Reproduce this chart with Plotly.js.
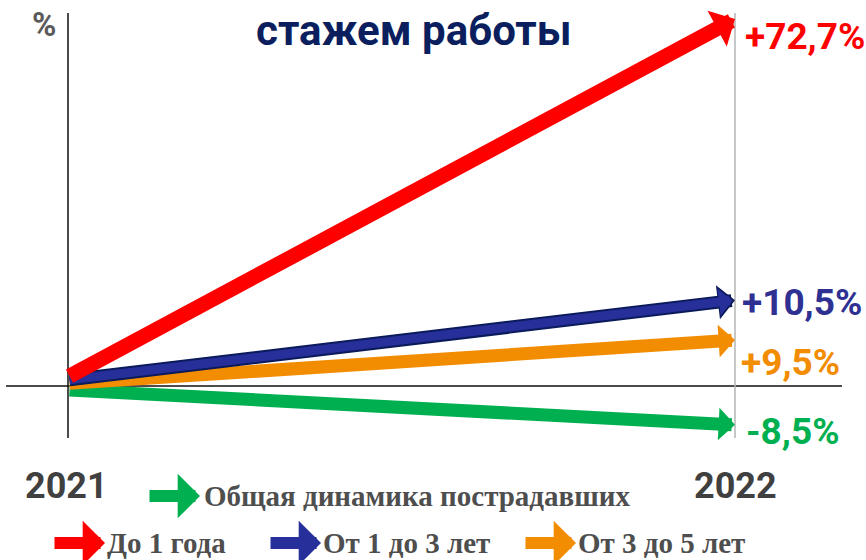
<!DOCTYPE html>
<html>
<head>
<meta charset="utf-8">
<script src="https://cdn.plot.ly/plotly-3.0.1.min.js"></script>
<style>
  html, body { margin: 0; padding: 0; background: #ffffff; }
  #chart { width: 866px; height: 560px; }
</style>
</head>
<body>
<div id="chart"></div>
<script>
// ---- data ----
const years = [2021, 2022];
const groups = ['До 1 года', 'От 1 до 3 лет', 'От 3 до 5 лет', 'Общая динамика пострадавших'];
const changeLabels = ['+72,7%', '+10,5%', '+9,5%', '-8,5%'];
// level of each arrow at 2021 and at 2022, as drawn in the picture (schematic, in %)
const startLevel = [1.8, 1.2, 0.5, -0.8];
const arrowLevel = [72.7, 17.0, 9.1, -7.7];
const titleText = 'стажем работы';
const yUnit = '%';

// ---- styles ----
const colors = ['#ff0000', '#27309a', '#f28c00', '#00b050'];
const labelColors = ['#ff0000', '#2e3192', '#f28c00', '#00b050'];
const shaftWidth = [15, 9, 13, 13];
const headSize = [0.45, 0.5, 0.42, 0.42];
const labelShift = [-17, -2, -22, -7];
const labelXShift = [8, 5, 4, 9];

const W = 866, H = 560;
const px = v => v / W;
const py = v => 1 - v / H;

const annotations = [];
const shapes = [];

// axis lines
shapes.push({type: 'line', xref: 'x', yref: 'paper', x0: years[0], x1: years[0], y0: py(438), y1: py(13),
  line: {color: '#111111', width: 1.5}, layer: 'below'});
shapes.push({type: 'line', xref: 'paper', yref: 'y', x0: px(6), x1: px(842), y0: 0, y1: 0,
  line: {color: '#111111', width: 1.5}, layer: 'below'});
shapes.push({type: 'line', xref: 'x', yref: 'paper', x0: years[1], x1: years[1], y0: py(438), y1: py(13),
  line: {color: '#b4b4b4', width: 1.5}, layer: 'below'});

// main arrows (draw order: green, orange, blue, red)
const order = [3, 2, 1, 0];
order.forEach(i => {
  if (i === 1) {
    // dark outline of the blue arrow
    annotations.push({x: years[1], y: arrowLevel[i], ax: years[0], ay: startLevel[i],
      xref: 'x', yref: 'y', axref: 'x', ayref: 'y', text: '', showarrow: true,
      arrowhead: 1, arrowsize: 0.44, arrowwidth: 13, arrowcolor: '#0a1a5a'});
  }
  annotations.push({x: years[1], y: arrowLevel[i], ax: years[0], ay: startLevel[i],
    xref: 'x', yref: 'y', axref: 'x', ayref: 'y', text: '', showarrow: true,
    arrowhead: 1, arrowsize: headSize[i], arrowwidth: shaftWidth[i], arrowcolor: colors[i],
    standoff: i === 1 ? 2.5 : 0});
});

// value labels
changeLabels.forEach((t, i) => {
  annotations.push({x: years[1], y: arrowLevel[i], xref: 'x', yref: 'y', text: '<b>' + t + '</b>',
    showarrow: false, xanchor: 'left', yanchor: 'middle', xshift: labelXShift[i], yshift: labelShift[i],
    font: {family: 'Roboto, Arial, sans-serif', size: 37, color: labelColors[i]}});
});

// year labels
years.forEach((yr, i) => {
  annotations.push({x: yr, y: py(486), xref: 'x', yref: 'paper', text: '<b>' + yr + '</b>',
    showarrow: false, xanchor: 'center', yanchor: 'middle', xshift: i === 0 ? -2 : 0,
    font: {family: 'Roboto, Arial, sans-serif', size: 36, color: '#404040'}});
});

// title and unit
annotations.push({x: px(414), y: py(30), xref: 'paper', yref: 'paper', text: '<b>' + titleText + '</b>',
  showarrow: false, xanchor: 'center', yanchor: 'middle',
  font: {family: 'Roboto, Arial, sans-serif', size: 42, color: '#0b1f5e'}});
annotations.push({x: px(44), y: py(25), xref: 'paper', yref: 'paper', text: '<b>' + yUnit + '</b>',
  showarrow: false, xanchor: 'center', yanchor: 'middle',
  font: {family: 'Roboto, Arial, sans-serif', size: 33, color: '#5a5a5a'}});

// legend (arrow icons + serif text)
const legendPos = [
  {i: 3, tip: 200, y: 496, text: 202},
  {i: 0, tip: 105, y: 543, text: 105},
  {i: 1, tip: 321, y: 543, text: 321},
  {i: 2, tip: 576, y: 543, text: 576}
];
legendPos.forEach(p => {
  annotations.push({x: px(p.tip), y: py(p.y), xref: 'paper', yref: 'paper', ax: -52, ay: 0,
    text: '', showarrow: true, arrowhead: 1, arrowsize: 0.62, arrowwidth: 12, arrowcolor: colors[p.i]});
  annotations.push({x: px(p.text), y: py(p.y), xref: 'paper', yref: 'paper', text: '<b>' + groups[p.i] + '</b>',
    showarrow: false, xanchor: 'left', yanchor: 'middle',
    font: {family: '"Liberation Serif", "Times New Roman", serif', size: 29, color: '#4e4e4e'}});
});

const layout = {
  width: W, height: H,
  margin: {l: 0, r: 0, t: 0, b: 0},
  paper_bgcolor: '#ffffff', plot_bgcolor: '#ffffff',
  showlegend: false,
  xaxis: {range: [2021 - 68 / 667, 2021 + (866 - 68) / 667], visible: false, fixedrange: true},
  yaxis: {range: [-174 / 5.048, 386 / 5.048], visible: false, fixedrange: true},
  shapes: shapes,
  annotations: annotations
};

Plotly.newPlot('chart', [], layout, {displayModeBar: false, staticPlot: true});
</script>
</body>
</html>
